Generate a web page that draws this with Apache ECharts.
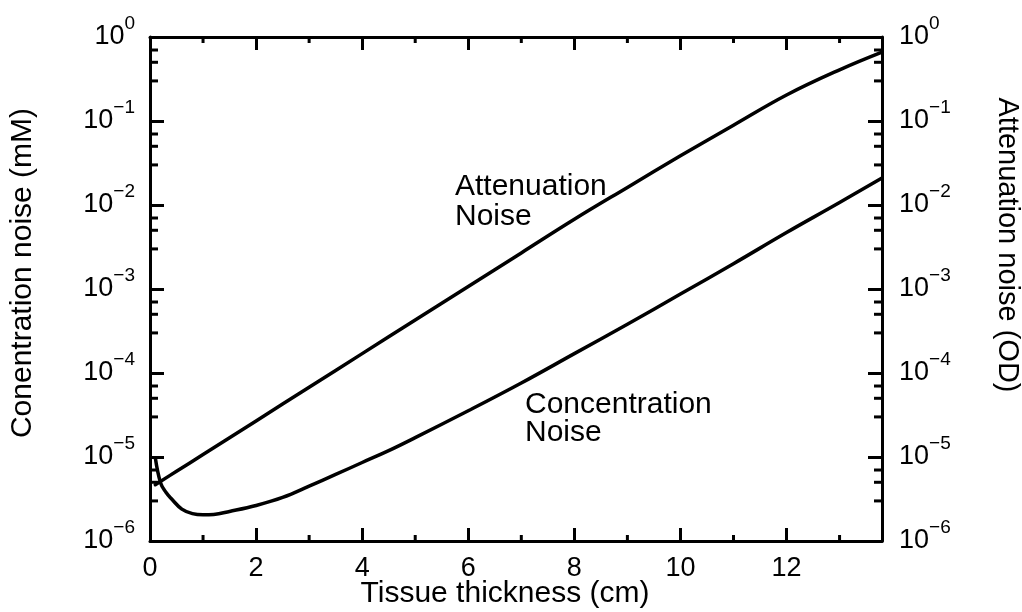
<!DOCTYPE html>
<html><head><meta charset="utf-8">
<script src="https://cdn.jsdelivr.net/npm/echarts/dist/echarts.min.js"></script>
<style>html,body{margin:0;padding:0;background:#fff}#c{width:1022px;height:612px}</style>
</head><body><div id="c"></div>
<script>
// ---- data ----
const attX = [0.1, 0.5, 1, 2, 3, 4, 5, 6, 7, 8, 9, 10, 11, 12, 13, 13.8];
const attY = [4.68e-6, 6.76e-6, 1.07e-5, 2.69e-5, 6.76e-5, 1.70e-4, 4.27e-4, 1.07e-3, 2.69e-3, 6.76e-3, 1.62e-2, 3.85e-2, 8.91e-2, 0.204, 0.407, 0.661];
const conX = [0.1, 0.2, 0.3, 0.4, 0.6, 0.8, 1.0, 1.2, 1.5, 2.0, 2.5, 3.0, 3.5, 4.0, 4.5, 5, 6, 7, 8, 9, 10, 11, 12, 13, 13.8];
const conY = [9.8e-6, 4.9e-6, 3.8e-6, 3.2e-6, 2.4e-6, 2.12e-6, 2.05e-6, 2.07e-6, 2.25e-6, 2.65e-6, 3.3e-6, 4.5e-6, 6.2e-6, 8.6e-6, 1.19e-5, 1.70e-5, 3.55e-5, 7.6e-5, 1.70e-4, 3.8e-4, 8.7e-4, 2.0e-3, 4.7e-3, 1.07e-2, 2.1e-2];
const xMinorTicks = [1, 3, 5, 7, 9, 11, 13];
const yDecades = [-6, -5, -4, -3, -2, -1];
const yMinorMultipliers = [3, 5, 7];
const xLabel = 'Tissue thickness (cm)';
const yLeftLabel = 'Conentration noise (mM)';
const yRightLabel = 'Attenuation noise (OD)';
const noteAtt = 'Attenuation\nNoise';
const noteCon = 'Concentration\nNoise';

// ---- chart ----
const X_MIN = 0, X_MAX = 13.8, Y_MIN = 1e-6, Y_MAX = 1;
const FONT = '"Liberation Sans", Arial, Helvetica, sans-serif';
const BLACK = '#000';
const lineStyle = {color: BLACK, width: 3};

const minorData = [];
yDecades.forEach(e => yMinorMultipliers.forEach(m => minorData.push([X_MIN, m * Math.pow(10, e), 0])));
xMinorTicks.forEach(x => minorData.push([x, Y_MIN, 1]));

function logLabel(v) {
  const e = Math.round(Math.log10(v));
  return '{b|10}{s|' + (e === 0 ? '0' : '\u2212' + (-e)) + '}';
}
const rich = {
  b: {fontSize: 27, fontFamily: FONT, color: BLACK, lineHeight: 46, verticalAlign: 'middle'},
  s: {fontSize: 19, fontFamily: FONT, color: BLACK, lineHeight: 19, verticalAlign: 'top'}
};

function xAxisCfg(pos, showLabel) {
  return {
    type: 'value', position: pos, min: X_MIN, max: X_MAX, interval: 2,
    axisLine: {show: true, onZero: false, lineStyle},
    axisTick: {show: true, inside: true, length: 13, lineStyle: {color: BLACK, width: 3}},
    axisLabel: {show: showLabel, fontSize: 27, fontFamily: FONT, color: BLACK, margin: 14, showMaxLabel: false},
    splitLine: {show: false}
  };
}
function yAxisCfg(pos, margin) {
  return {
    type: 'log', logBase: 10, position: pos, min: Y_MIN, max: Y_MAX,
    axisLine: {show: true, onZero: false, lineStyle},
    axisTick: {show: true, inside: true, length: 14, lineStyle: {color: BLACK, width: 3}},
    axisLabel: {show: true, margin: margin, formatter: logLabel, rich: rich, fontSize: 27, fontFamily: FONT, color: BLACK},
    splitLine: {show: false}, minorTick: {show: false}
  };
}

const chart = echarts.init(document.getElementById('c'), null, {renderer: 'canvas'});
chart.setOption({
  backgroundColor: '#fff',
  animation: false,
  grid: {left: 150, right: 140, top: 37, bottom: 71, containLabel: false},
  xAxis: [xAxisCfg('bottom', true), xAxisCfg('top', false)],
  yAxis: [yAxisCfg('left', 15), yAxisCfg('right', 17)],
  series: [
    {type: 'line', name: 'Attenuation', xAxisIndex: 0, yAxisIndex: 0,
     data: attX.map((x, i) => [x, attY[i]]), showSymbol: false, symbol: 'none',
     smooth: 0.4, lineStyle: {color: BLACK, width: 3.5, cap: 'round', join: 'round'}, z: 5},
    {type: 'line', name: 'Concentration', xAxisIndex: 0, yAxisIndex: 0,
     data: conX.map((x, i) => [x, conY[i]]), showSymbol: false, symbol: 'none',
     smooth: 0.4, lineStyle: {color: BLACK, width: 3.5, cap: 'round', join: 'round'}, z: 5},
    {type: 'custom', name: 'minorTicks', xAxisIndex: 0, yAxisIndex: 0, silent: true,
     data: minorData,
     renderItem: function (params, api) {
       const kind = api.value(2);
       const st = {stroke: BLACK, lineWidth: 3};
       if (kind === 0) {
         const v = api.value(1);
         const pL = api.coord([X_MIN, v]);
         const pR = api.coord([X_MAX, v]);
         return {type: 'group', children: [
           {type: 'line', shape: {x1: pL[0], y1: pL[1], x2: pL[0] + 8, y2: pL[1]}, style: st},
           {type: 'line', shape: {x1: pR[0], y1: pR[1], x2: pR[0] - 8, y2: pR[1]}, style: st}
         ]};
       } else {
         const x = api.value(0);
         const pB = api.coord([x, Y_MIN]);
         const pT = api.coord([x, Y_MAX]);
         return {type: 'group', children: [
           {type: 'line', shape: {x1: pB[0], y1: pB[1], x2: pB[0], y2: pB[1] - 6}, style: st},
           {type: 'line', shape: {x1: pT[0], y1: pT[1], x2: pT[0], y2: pT[1] + 6}, style: st}
         ]};
       }
     }}
  ],
  graphic: [
    {type: 'text', x: 505, y: 594, style: {text: xLabel, fontSize: 30, fontFamily: FONT, fill: BLACK, align: 'center', verticalAlign: 'middle'}},
    {type: 'text', x: 23, y: 273, rotation: Math.PI / 2, style: {text: yLeftLabel, fontSize: 30, fontFamily: FONT, fill: BLACK, align: 'center', verticalAlign: 'middle'}},
    {type: 'text', x: 1007, y: 245, rotation: -Math.PI / 2, style: {text: yRightLabel, fontSize: 29, fontFamily: FONT, fill: BLACK, align: 'center', verticalAlign: 'middle'}},
    {type: 'text', x: 455, y: 172, style: {text: noteAtt, fontSize: 30, fontFamily: FONT, fill: BLACK, lineHeight: 30, align: 'left', verticalAlign: 'top'}},
    {type: 'text', x: 525, y: 391, style: {text: noteCon, fontSize: 30, fontFamily: FONT, fill: BLACK, lineHeight: 28, align: 'left', verticalAlign: 'top'}}
  ]
});
</script>
</body></html>
